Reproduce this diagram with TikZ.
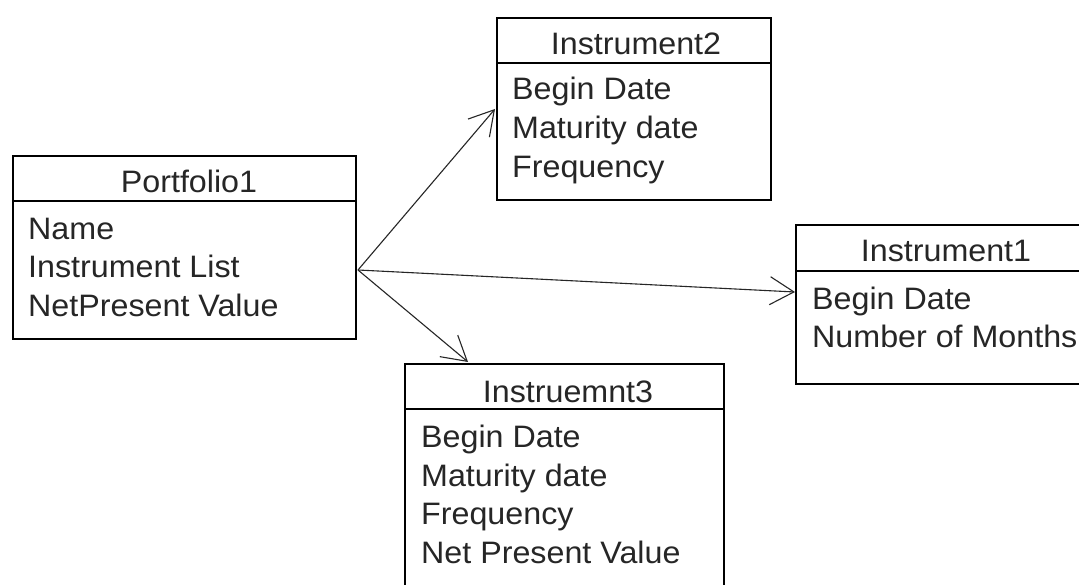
\documentclass[tikz,border=0pt]{standalone}
\usepackage{fontspec}
\setmainfont{Liberation Sans}[FakeStretch=1.04]
\usetikzlibrary{arrows.meta}
\begin{document}
\begin{tikzpicture}[x=1pt,y=-1pt,
  box/.style={draw=black, line width=1.8pt, anchor=north west, inner sep=0pt},
  sep/.style={draw=black, line width=1.8pt},
  title/.style={anchor=base, inner sep=0pt, font=\fontsize{31}{31}\selectfont, text=black!85},
  item/.style={anchor=base west, inner sep=0pt, font=\fontsize{31}{31}\selectfont, text=black!85},
  link/.style={draw=black!85, line width=1.1pt, -{Straight Barb[length=24pt,width=28pt,line width=1.1pt]}}
]
\useasboundingbox (0,0) rectangle (1079,585);
\fill[white] (0,0) rectangle (1079,585);
\clip (0,0) rectangle (1079,585);

% Portfolio1
\node[box, minimum width=343pt, minimum height=183pt] (p1) at (12,155) {};
\draw[sep] (12,201) -- (355,201);
\node[title] (p1t) at (189,193) {Portfolio1};
\node[item] (p1a) at (28,240) {Name};
\node[item] (p1b) at (28,278) {Instrument List};
\node[item] (p1c) at (28,317) {NetPresent Value};

% Instrument2
\node[box, minimum width=274pt, minimum height=182pt] (i2) at (496,17) {};
\draw[sep] (496,63) -- (770,63);
\node[title] (i2t) at (636,55) {Instrument2};
\node[item] (i2a) at (512,100) {Begin Date};
\node[item] (i2b) at (512,139) {Maturity date};
\node[item] (i2c) at (512,178) {Frequency};

% Instrument1
\node[box, minimum width=320pt, minimum height=159pt] (i1) at (795,224) {};
\draw[sep] (795,271) -- (1100,271);
\node[title] (i1t) at (946,262) {Instrument1};
\node[item] (i1a) at (812,309) {Begin Date};
\node[item] (i1b) at (812,347) {Number of Months};

% Instruemnt3
\node[box, minimum width=319pt, minimum height=260pt] (i3) at (404,363) {};
\draw[sep] (404,409) -- (723,409);
\node[title] (i3t) at (568,402) {Instruemnt3};
\node[item] (i3a) at (421,447) {Begin Date};
\node[item] (i3b) at (421,486) {Maturity date};
\node[item] (i3c) at (421,524) {Frequency};
\node[item] (i3d) at (421,563) {Net Present Value};

% connectors
\coordinate (src) at (358,270);
\coordinate (e2) at (495,109);
\coordinate (e1) at (795,292);
\coordinate (e3) at (468,362);
\draw[link] (src) -- (e2);
\draw[link] (src) -- (e1);
\draw[link] (src) -- (e3);
\end{tikzpicture}
\end{document}
